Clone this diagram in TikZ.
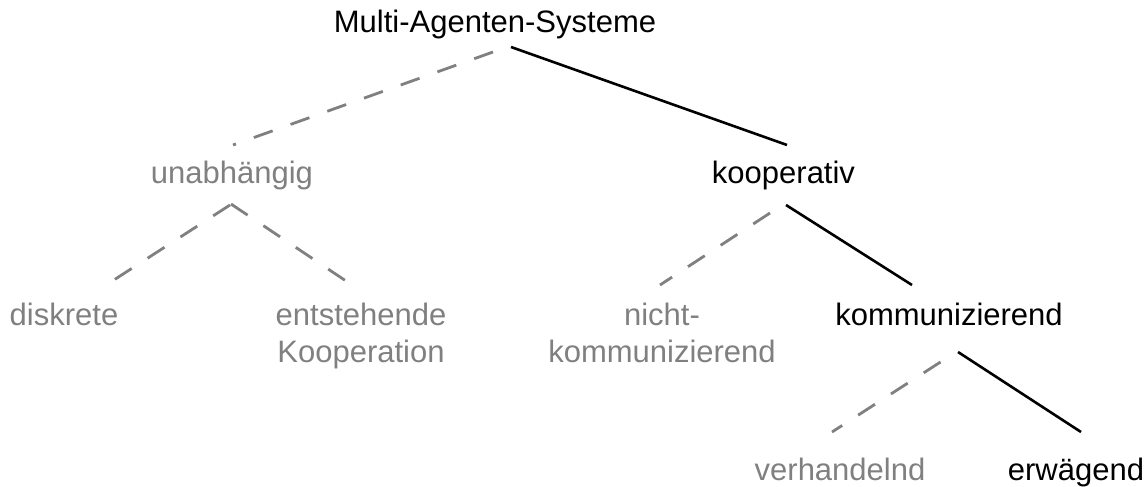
\documentclass[tikz,border=0pt]{standalone}
\usepackage{fontspec}
\setmainfont{Liberation Sans}
\usetikzlibrary{calc}
\definecolor{muted}{HTML}{808080}
\begin{document}
\begin{tikzpicture}[x=1pt,y=-1pt,
  label/.style={inner sep=0pt,anchor=base,align=center,
    font=\fontsize{31}{37}\selectfont},
  active/.style={label,text=black},
  inactive/.style={label,text=muted},
  solidedge/.style={draw=black,line width=2.6pt},
  dashedge/.style={draw=muted,line width=2.8pt,dash pattern=on 20pt off 19pt}]
  \useasboundingbox (0,0) rectangle (1148,487);

  % tree labels (two-line labels sit on the baseline of their last line)
  \node[active]   (mas)   at (495,33)   {Multi-Agenten-Systeme};
  \node[inactive] (unab)  at (232,183)  {unabhängig};
  \node[active]   (koop)  at (783.5,183){kooperativ};
  \node[inactive] (disk)  at (64,325)   {diskrete};
  \node[inactive] (ents)  at (361,362)  {entstehende\\Kooperation};
  \node[inactive] (nicht) at (662,362)  {nicht-\\kommunizierend};
  \node[active]   (komm)  at (949,325)  {kommunizierend};
  \node[inactive] (verh)  at (840,480)  {verhandelnd};
  \node[active]   (erw)   at (1076,480) {erwägend};

  % branches
  \draw[dashedge]  ($(mas.base)+(-2,19)$)    -- ($(unab.base)+(1,-38)$);
  \draw[solidedge] ($(mas.base)+(16,14)$)    -- ($(koop.base)+(3.5,-38)$);
  \draw[dashedge]  ($(unab.base)+(-2,22)$)   -- ($(disk.base)+(39,-38)$);
  \draw[dashedge]  ($(unab.base)+(-1,21)$)   -- ($(ents.base)+(-6,-75)$);
  \draw[dashedge]  ($(koop.base)+(-13.5,30)$)-- ($(nicht.base)+(-2,-77)$);
  \draw[solidedge] ($(koop.base)+(2.5,22)$)  -- ($(komm.base)+(-37,-40)$);
  \draw[dashedge]  ($(komm.base)+(-8.5,37)$) -- ($(verh.base)+(-8,-48)$);
  \draw[solidedge] ($(komm.base)+(9,27)$)    -- ($(erw.base)+(5,-48)$);
\end{tikzpicture}
\end{document}
